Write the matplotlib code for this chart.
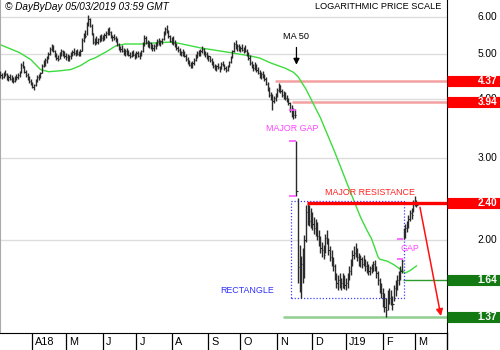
import pandas as pd
import matplotlib
matplotlib.use("Agg")
import matplotlib.pyplot as plt
from matplotlib.patches import Rectangle
from matplotlib.transforms import blended_transform_factory, offset_copy

plt.rcParams["font.family"] = ["Liberation Sans", "DejaVu Sans"]

# daily bars, 5 Mar 2018 .. 4 Mar 2019
dates = pd.bdate_range("2018-03-05", periods=261)

high = [
    4.60, 4.55, 4.58, 4.62, 4.56, 4.50, 4.52, 4.50, 4.46, 4.48,
    4.52, 4.55, 4.60, 4.78, 4.84, 4.72, 4.62, 4.55, 4.48, 4.42,
    4.36, 4.32, 4.42, 4.50, 4.52, 4.58, 4.75, 4.86, 4.90, 4.95,
    5.05, 5.18, 5.25, 5.22, 5.10, 5.02, 4.98, 5.05, 5.12, 5.10,
    5.06, 5.02, 5.00, 4.98, 5.04, 5.10, 5.14, 5.10, 5.12, 5.08,
    5.12, 5.40, 5.55, 5.62, 5.85, 6.05, 5.98, 5.80, 5.55, 5.40,
    5.45, 5.42, 5.48, 5.52, 5.50, 5.55, 5.60, 5.68, 5.70, 5.60,
    5.50, 5.52, 5.46, 5.40, 5.28, 5.20, 5.22, 5.16, 5.12, 5.14,
    5.10, 5.04, 5.08, 5.10, 5.02, 5.06, 5.08, 5.04, 5.10, 5.30,
    5.48, 5.45, 5.36, 5.32, 5.30, 5.26, 5.24, 5.30, 5.38, 5.40,
    5.36, 5.42, 5.60, 5.72, 5.76, 5.62, 5.50, 5.44, 5.46, 5.35,
    5.28, 5.20, 5.14, 5.08, 5.12, 5.06, 5.00, 4.92, 4.86, 4.80,
    4.82, 4.90, 5.00, 5.06, 5.10, 5.12, 5.20, 5.14, 5.06, 5.04,
    4.98, 4.96, 4.90, 4.82, 4.76, 4.74, 4.78, 4.72, 4.80, 4.84,
    4.76, 4.70, 4.74, 4.84, 4.95, 5.10, 5.30, 5.36, 5.24, 5.26,
    5.20, 5.24, 5.18, 5.22, 5.12, 5.04, 4.98, 4.82, 4.76, 4.80,
    4.76, 4.68, 4.62, 4.58, 4.60, 4.54, 4.46, 4.36, 4.24, 4.14,
    4.10, 4.06, 4.12, 4.22, 4.34, 4.30, 4.20, 4.16, 4.14, 4.08,
    4.02, 3.94, 3.88, 3.84, 3.82, 3.25, 2.46, 1.95, 1.85, 1.92,
    2.05, 2.38, 2.40, 2.38, 2.34, 2.30, 2.24, 2.22, 2.18, 2.10,
    2.04, 1.98, 1.95, 2.06, 2.10, 2.02, 1.94, 1.90, 1.84, 1.78,
    1.70, 1.68, 1.70, 1.66, 1.70, 1.68, 1.66, 1.70, 1.76, 1.82,
    1.90, 1.94, 1.97, 1.92, 1.88, 1.86, 1.84, 1.86, 1.82, 1.80,
    1.78, 1.76, 1.78, 1.80, 1.81, 1.76, 1.72, 1.66, 1.62, 1.58,
    1.54, 1.50, 1.56, 1.58, 1.56, 1.52, 1.60, 1.64, 1.68, 1.72,
    1.76, 1.82, 2.12, 2.16, 2.20, 2.26, 2.32, 2.34, 2.44, 2.48,
    2.44,
]

low = [
    4.45, 4.42, 4.44, 4.48, 4.40, 4.38, 4.40, 4.36, 4.34, 4.36,
    4.40, 4.42, 4.46, 4.55, 4.66, 4.55, 4.46, 4.40, 4.34, 4.28,
    4.22, 4.18, 4.26, 4.36, 4.40, 4.44, 4.55, 4.68, 4.72, 4.78,
    4.88, 4.98, 5.06, 5.05, 4.92, 4.86, 4.82, 4.88, 4.96, 4.94,
    4.90, 4.86, 4.84, 4.84, 4.88, 4.94, 4.98, 4.96, 4.98, 4.94,
    4.96, 5.08, 5.30, 5.40, 5.50, 5.75, 5.70, 5.50, 5.25, 5.22,
    5.26, 5.25, 5.30, 5.34, 5.32, 5.36, 5.40, 5.48, 5.50, 5.42,
    5.32, 5.35, 5.30, 5.20, 5.10, 5.04, 5.04, 4.98, 4.96, 4.98,
    4.94, 4.90, 4.92, 4.94, 4.88, 4.90, 4.92, 4.88, 4.96, 5.04,
    5.20, 5.26, 5.18, 5.14, 5.12, 5.08, 5.06, 5.12, 5.20, 5.22,
    5.20, 5.24, 5.36, 5.48, 5.55, 5.40, 5.30, 5.25, 5.22, 5.18,
    5.10, 5.04, 4.98, 4.94, 4.96, 4.92, 4.84, 4.76, 4.70, 4.66,
    4.66, 4.74, 4.84, 4.90, 4.94, 4.96, 5.02, 4.98, 4.92, 4.88,
    4.84, 4.80, 4.74, 4.66, 4.62, 4.60, 4.64, 4.58, 4.64, 4.70,
    4.62, 4.58, 4.60, 4.68, 4.78, 4.90, 5.05, 5.12, 5.08, 5.08,
    5.04, 5.06, 5.02, 5.04, 4.96, 4.86, 4.74, 4.66, 4.60, 4.62,
    4.58, 4.52, 4.45, 4.42, 4.44, 4.38, 4.28, 4.16, 4.04, 3.98,
    3.80, 3.92, 3.96, 4.04, 4.14, 4.12, 4.04, 4.00, 3.98, 3.94,
    3.88, 3.76, 3.66, 3.62, 3.64, 2.48, 1.62, 1.55, 1.50, 1.62,
    1.66, 1.98, 2.15, 2.14, 2.12, 2.10, 2.06, 2.04, 2.00, 1.94,
    1.88, 1.84, 1.82, 1.88, 1.96, 1.86, 1.80, 1.76, 1.72, 1.64,
    1.58, 1.56, 1.58, 1.56, 1.58, 1.57, 1.56, 1.58, 1.64, 1.68,
    1.76, 1.82, 1.84, 1.80, 1.76, 1.75, 1.74, 1.76, 1.72, 1.70,
    1.68, 1.68, 1.70, 1.72, 1.72, 1.66, 1.60, 1.54, 1.50, 1.44,
    1.40, 1.37, 1.42, 1.46, 1.45, 1.42, 1.48, 1.52, 1.56, 1.60,
    1.64, 1.70, 2.01, 2.02, 2.08, 2.12, 2.20, 2.22, 2.30, 2.36,
    2.35,
]

close = [
    4.50, 4.47, 4.55, 4.52, 4.43, 4.46, 4.42, 4.40, 4.38, 4.45,
    4.47, 4.50, 4.58, 4.74, 4.70, 4.58, 4.50, 4.44, 4.38, 4.32,
    4.25, 4.28, 4.40, 4.46, 4.48, 4.55, 4.72, 4.80, 4.86, 4.92,
    5.00, 5.12, 5.20, 5.08, 4.96, 4.90, 4.88, 5.02, 5.06, 5.00,
    4.95, 4.92, 4.90, 4.94, 4.98, 5.04, 5.02, 5.06, 5.00, 5.04,
    5.08, 5.35, 5.50, 5.46, 5.80, 5.95, 5.75, 5.55, 5.30, 5.35,
    5.30, 5.38, 5.44, 5.40, 5.46, 5.50, 5.55, 5.62, 5.56, 5.46,
    5.44, 5.40, 5.38, 5.24, 5.14, 5.12, 5.08, 5.02, 5.08, 5.04,
    4.98, 4.96, 5.04, 4.98, 4.92, 5.02, 4.96, 4.98, 5.08, 5.26,
    5.42, 5.30, 5.24, 5.28, 5.18, 5.14, 5.20, 5.26, 5.34, 5.30,
    5.32, 5.38, 5.55, 5.66, 5.60, 5.45, 5.34, 5.40, 5.28, 5.22,
    5.14, 5.10, 5.02, 5.04, 5.00, 4.96, 4.88, 4.80, 4.74, 4.72,
    4.78, 4.86, 4.96, 5.02, 5.00, 5.08, 5.12, 5.04, 5.00, 4.92,
    4.94, 4.86, 4.78, 4.70, 4.66, 4.70, 4.68, 4.64, 4.76, 4.74,
    4.66, 4.62, 4.70, 4.80, 4.92, 5.06, 5.25, 5.18, 5.20, 5.14,
    5.16, 5.10, 5.12, 5.08, 5.00, 4.90, 4.78, 4.72, 4.66, 4.74,
    4.62, 4.56, 4.50, 4.52, 4.48, 4.42, 4.32, 4.20, 4.08, 4.04,
    3.96, 4.02, 4.08, 4.18, 4.28, 4.16, 4.08, 4.12, 4.02, 4.00,
    3.92, 3.80, 3.72, 3.70, 3.70, 2.55, 1.75, 1.70, 1.78, 1.68,
    2.00, 2.30, 2.25, 2.20, 2.28, 2.16, 2.12, 2.08, 2.04, 1.98,
    1.92, 1.90, 1.86, 2.02, 2.00, 1.90, 1.84, 1.80, 1.76, 1.68,
    1.62, 1.64, 1.60, 1.62, 1.66, 1.60, 1.62, 1.68, 1.72, 1.80,
    1.86, 1.88, 1.90, 1.84, 1.80, 1.82, 1.78, 1.80, 1.76, 1.74,
    1.72, 1.74, 1.72, 1.78, 1.74, 1.70, 1.64, 1.58, 1.54, 1.50,
    1.44, 1.42, 1.52, 1.50, 1.48, 1.46, 1.58, 1.60, 1.64, 1.68,
    1.72, 1.80, 2.08, 2.12, 2.18, 2.22, 2.28, 2.26, 2.40, 2.42,
    2.38,
]

# 50 day moving average, read at bar positions
ma_idx = [0, 12, 19, 25, 30, 37, 44, 50, 56, 59, 66, 72, 78, 88, 97, 106,
          109, 125, 144, 156, 162, 169, 178, 183, 186, 191, 200, 209, 219,
          225, 229, 232, 236, 237, 242, 246, 250, 253, 256, 260]
ma_val = [5.23, 5.03, 4.86, 4.63, 4.58, 4.60, 4.63, 4.72, 4.86, 4.90, 5.05,
          5.20, 5.25, 5.25, 5.28, 5.30, 5.29, 5.15, 5.03, 4.95, 4.90, 4.78,
          4.66, 4.57, 4.47, 4.20, 3.65, 3.08, 2.52, 2.24, 2.10, 2.01, 1.84,
          1.82, 1.80, 1.77, 1.73, 1.70, 1.72, 1.76]

month_labels = ["A18", "M", "J", "J", "A", "S", "O", "N", "D", "J19", "F", "M"]
grid_prices = [2, 3, 4, 5, 6]

red_levels = [4.37, 3.94]
resistance = 2.40
support_mid = 1.64
support_low = 1.37
gap_major = [3.80, 3.25, 2.48]
gap_minor = [2.01, 1.82]

box_prices = [4.37, 3.94, 2.40, 1.64, 1.37]
box_colors = ["#ff0000", "#ff0000", "#ff0000", "#137a13", "#137a13"]

fig = plt.figure(figsize=(5, 3.5), dpi=100)
ax = fig.add_axes([0, 17 / 350, 447 / 500, 333 / 350])
ax.set_yscale("log")
ax.set_ylim(1.265, 6.52)
ax.set_xlim(-0.3, 279.1)
XR = 279.1

x = list(range(len(high)))

# grid
for p in grid_prices:
    ax.axhline(p, color="#dddddd", lw=1, zorder=0)

# bars
ax.vlines(x, low, high, color="#2a2a2a", lw=1.0, zorder=3)
ax.hlines(close, [i for i in x], [i + 0.7 for i in x], color="#2a2a2a", lw=0.8, zorder=3)

# moving average
ax.plot(ma_idx, ma_val, color="#3ddc3d", lw=1.0, zorder=2)

# levels
ax.hlines(red_levels[0], 171.5, XR, color="#f4a0a0", lw=1.8, zorder=1)
ax.hlines(red_levels[1], 182.2, XR, color="#f4a0a0", lw=1.8, zorder=1)
ax.hlines(resistance, 191.5, XR, color="#ff0000", lw=2.4, zorder=4)
ax.hlines(support_mid, 251.6, XR, color="#2e9b2e", lw=1.0, zorder=1)
ax.hlines(support_low, 176.6, XR, color="#8fcf8f", lw=1.8, zorder=1)

# rectangle
ax.add_patch(Rectangle((181.6, 1.50), 70.6, 0.92, fill=False, ls=(0, (1, 1.5)),
                       ec="#4040ff", lw=0.9, zorder=2))

# gap markers
ax.hlines(gap_major, 180.5, 185.0, color="#ff55ff", lw=1.2, zorder=4)
ax.hlines(gap_minor, 248.0, 251.5, color="#ff55ff", lw=1.2, zorder=4)

# annotations
ax.text(182.5, 3.47, "MAJOR GAP", color="#ff44ff", fontsize=6.4, ha="center", va="center")
ax.text(231, 2.53, "MAJOR RESISTANCE", color="#ff2020", fontsize=6.4, ha="center", va="center")
ax.text(255.6, 1.92, "GAP", color="#ff44ff", fontsize=6.4, ha="center", va="center")
ax.text(154, 1.56, "RECTANGLE", color="#3030ff", fontsize=6.4, ha="center", va="center")
ax.annotate("MA 50", xy=(185, 4.74), xytext=(185, 5.46), ha="center", va="center",
            fontsize=6.6, arrowprops=dict(arrowstyle="-|>", color="black", lw=0.9,
                                          mutation_scale=9, shrinkA=3, shrinkB=0))
ax.annotate("", xy=(275.3, 1.375), xytext=(262.2, 2.35),
            arrowprops=dict(arrowstyle="-|>", color="#ff1010", lw=1.1,
                            mutation_scale=10, shrinkA=0, shrinkB=0))

ax.text(0.011, 0.979, "\u00a9 DayByDay 05/03/2019 03:59 GMT", transform=ax.transAxes,
        fontsize=7.2, style="italic", ha="left", va="center")
ax.text(0.9866, 0.979, "LOGARITHMIC PRICE SCALE", transform=ax.transAxes,
        fontsize=6.6, ha="right", va="center")

# right price scale
ax.set_yticks([])
ax.minorticks_off()
ax.tick_params(axis="y", which="both", left=False, right=False,
               labelleft=False, labelright=False)
trans_r = blended_transform_factory(ax.transAxes, ax.transData)
for p in grid_prices:
    ax.text(1.112, p, f"{p:.2f}", transform=trans_r, ha="right", va="center",
            fontsize=7.3, clip_on=False, zorder=4)
for p, c in zip(box_prices, box_colors):
    ax.plot([1.0, 1.12], [p, p], transform=trans_r, color=c, lw=8.0,
            solid_capstyle="butt", clip_on=False, zorder=5)
    ax.text(1.112, p, f"{p:.2f}", transform=trans_r, ha="right", va="center",
            fontsize=7.3, color="white", fontweight="bold", clip_on=False, zorder=6)

# month axis
starts = [i for i in range(1, len(dates)) if dates[i].month != dates[i - 1].month]
ax.set_xticks(starts)
ax.tick_params(axis="x", direction="out", length=12.3, width=0.9, color="black",
               labelbottom=False)
trans_b = blended_transform_factory(ax.transData, ax.transAxes)
lab_trans = offset_copy(trans_b, fig=fig, x=3, y=-9, units="dots")
for s, lab in zip(starts, month_labels):
    ax.text(s, 0, lab, transform=lab_trans, ha="left", va="center", fontsize=7.8,
            clip_on=False)

ax.spines["top"].set_visible(False)
ax.spines["left"].set_color("#aaaaaa")
ax.spines["right"].set_color("black")
ax.spines["bottom"].set_color("black")
ax.plot([1, 1], [0, -17 / 333], transform=ax.transAxes, color="black", lw=1,
        clip_on=False)

fig.savefig("out.png", dpi=100)
